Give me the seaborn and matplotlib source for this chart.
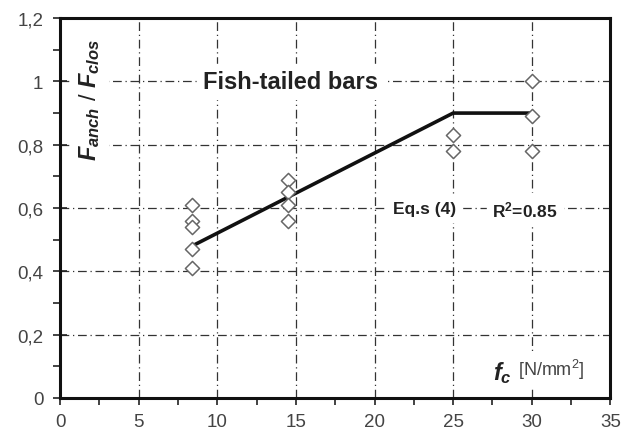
import pandas as pd
import matplotlib.pyplot as plt
import seaborn as sns
from matplotlib.ticker import MultipleLocator, FuncFormatter

# datos
fc_pts = [8.4, 8.4, 8.4, 8.4, 8.4, 14.5, 14.5, 14.5, 14.5, 25, 25, 30, 30, 30]
ratio_pts = [0.61, 0.56, 0.54, 0.47, 0.41, 0.69, 0.65, 0.61, 0.56, 0.83, 0.78, 1.0, 0.89, 0.78]
fc_fit = [8.4, 25, 30]
ratio_fit = [0.48, 0.90, 0.90]

df = pd.DataFrame({'fc': fc_pts, 'ratio': ratio_pts})
fit = pd.DataFrame({'fc': fc_fit, 'ratio': ratio_fit})

sns.set_theme(style="white")
plt.rcParams['font.family'] = ['Liberation Sans', 'DejaVu Sans']
plt.rcParams['mathtext.fontset'] = 'custom'
plt.rcParams['mathtext.it'] = 'Liberation Sans:bold:italic'
plt.rcParams['mathtext.rm'] = 'Liberation Sans'
plt.rcParams['mathtext.bf'] = 'Liberation Sans:bold'

fig = plt.figure(figsize=(6.29, 4.35), dpi=100)
ax = fig.add_axes([0.0954, 0.083, 0.875, 0.873])

sns.lineplot(x='fc', y='ratio', data=fit, color='#111111', linewidth=2.6, ax=ax)
sns.scatterplot(x='fc', y='ratio', data=df, marker='D', s=52, facecolor='white',
                edgecolor='#666666', linewidth=1.1, ax=ax, zorder=3)

ax.set_xlim(0, 35)
ax.set_ylim(0, 1.2)
ax.xaxis.set_major_locator(MultipleLocator(5))
ax.xaxis.set_minor_locator(MultipleLocator(2.5))
ax.yaxis.set_major_locator(MultipleLocator(0.2))
ax.yaxis.set_minor_locator(MultipleLocator(0.1))
ax.yaxis.set_major_formatter(FuncFormatter(lambda v, p: ('%g' % round(v, 1)).replace('.', ',')))
ax.tick_params(which='both', direction='out', length=5, width=1.2, color='#222222',
               bottom=True, left=True, labelsize=13.5, labelcolor='#444444')
ax.tick_params(axis='y', which='major', direction='inout', length=10, pad=7)
ax.tick_params(axis='x', pad=6)

for s in ax.spines.values():
    s.set_color('#111111')
    s.set_linewidth(2.2)

ax.grid(True, which='major', color='#333333', linewidth=0.9, dashes=(7, 3, 1, 3))
ax.set_axisbelow(True)
ax.set_xlabel('')
ax.set_ylabel('')

ax.text(1.9, 0.945, r'$F_{anch}$ $/$ $F_{clos}$', rotation=90,
        ha='center', va='center', fontsize=17, fontweight='bold',
        color='#222222', backgroundcolor='white')
ax.text(9.1, 1.0, 'Fish-tailed bars', fontsize=17, fontweight='bold', color='#222222',
        va='center', backgroundcolor='white')
ax.text(21.2, 0.597, 'Eq.s (4)', fontsize=12.5, fontweight='bold', color='#222222',
        va='center', backgroundcolor='white')
ax.text(27.5, 0.597, 'R$\\mathbf{^2}$=0.85', fontsize=12.5, fontweight='bold', color='#222222',
        va='center', backgroundcolor='white')
ax.text(27.55, 0.083, r'$f_c$', fontsize=17, color='#222222',
        va='center', backgroundcolor='white')
ax.text(29.15, 0.09, r'[N/mm$\mathrm{^2}$]', fontsize=13, color='#444444',
        va='center', backgroundcolor='white')

plt.savefig('out.png', dpi=100)
